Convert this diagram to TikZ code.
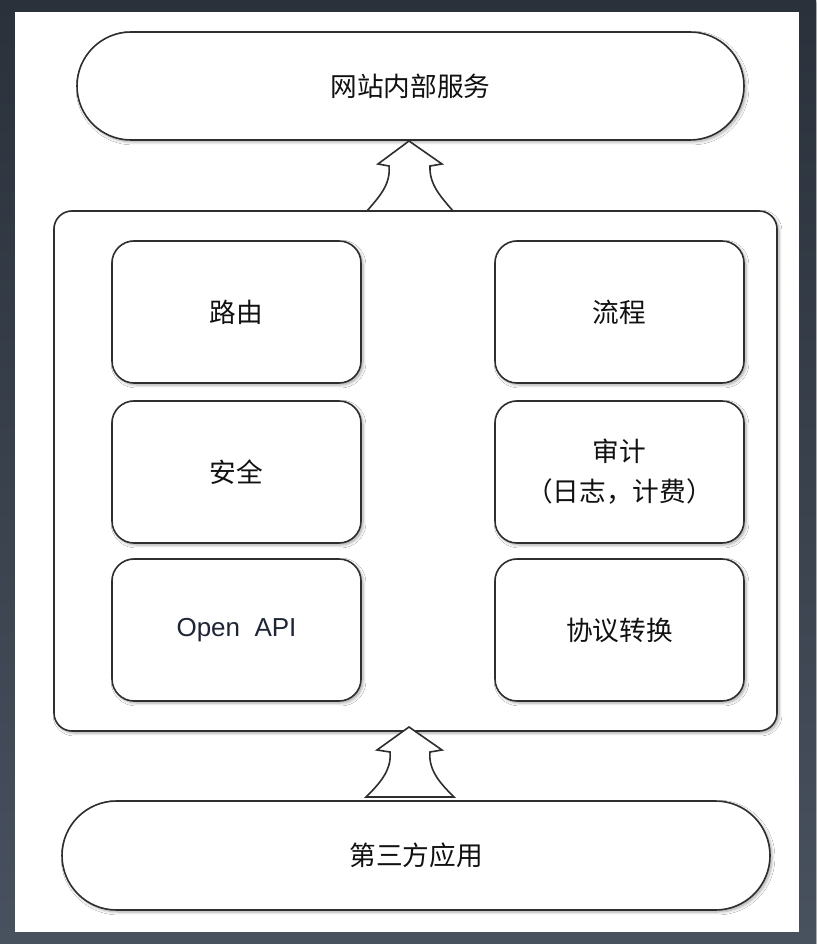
\documentclass[tikz,border=0pt]{standalone}
\usepackage{fontspec}
\newfontfamily\cjk{Noto Sans CJK SC}
\newfontfamily\lat{Liberation Sans}
\usetikzlibrary{shadows.blur,shapes.misc}
\definecolor{bgtop}{HTML}{2A313B}
\definecolor{bgbot}{HTML}{48515E}
\definecolor{ln}{HTML}{2E2E2E}
\definecolor{txt}{HTML}{111111}
\definecolor{txtlat}{HTML}{1E2536}
\begin{document}
\begin{tikzpicture}[x=0.75pt,y=-0.75pt,
  shade/.style={blur shadow={shadow xshift=1.5pt,shadow yshift=-1.5pt,shadow blur steps=6,shadow blur radius=2.2pt,shadow opacity=35}},
  basebox/.style={draw=ln,line width=1.2pt,fill=white,shade,text=txt,align=center,inner sep=0pt,
    font=\cjk\fontsize{20}{30}\selectfont},
  smallbox/.style={basebox,rectangle,rounded corners=16.5pt,minimum width=186.75pt,minimum height=106.5pt},
  outerbox/.style={basebox,rectangle,rounded corners=13.5pt,minimum width=542.25pt,minimum height=390pt},
  pill/.style={basebox,rounded rectangle,rounded rectangle arc length=180},
  blockarrow/.style={draw=ln,line width=1.2pt,fill=white,line join=miter}
]
\shade[top color=bgtop,bottom color=bgbot] (0,0) rectangle (816,944);
\fill[white] (15,12) rectangle (799,932);
\useasboundingbox (0,0) rectangle (816,944);

% top and bottom pills
\node[pill,minimum width=500.25pt,minimum height=81pt] (web) at (410.5,86) {网站内部服务};
\node[pill,minimum width=531pt,minimum height=81.75pt] (third) at (416,855.5) {第三方应用};

% gateway container
\node[outerbox] (gw) at (415.5,471) {};

% inner modules
\node[smallbox] (route) at (236.5,312) {路由};
\node[smallbox] (flow) at (619.5,312) {流程};
\node[smallbox] (sec) at (236.5,472) {安全};
\node[smallbox] (audit) at (619.5,472) {审计\\（日志，计费）};
\node[smallbox,font=\lat\fontsize{19.5}{22}\selectfont,text=txtlat] (api) at (236.5,630) {Open~~API};
\node[smallbox] (proto) at (619.5,630) {协议转换};

% block arrows
\draw[blockarrow] (409,141) -- (378,164) -- (389,166)
  .. controls (391,185) and (378,198) .. (367,211) -- (453,211)
  .. controls (442,198) and (429,185) .. (430,166) -- (442,164) -- cycle;
\draw[blockarrow] (409,727) -- (377,750) -- (390,752)
  .. controls (392,771) and (378,785) .. (366,797) -- (454,797)
  .. controls (442,785) and (428,771) .. (430,752) -- (442,750) -- cycle;
\end{tikzpicture}
\end{document}
